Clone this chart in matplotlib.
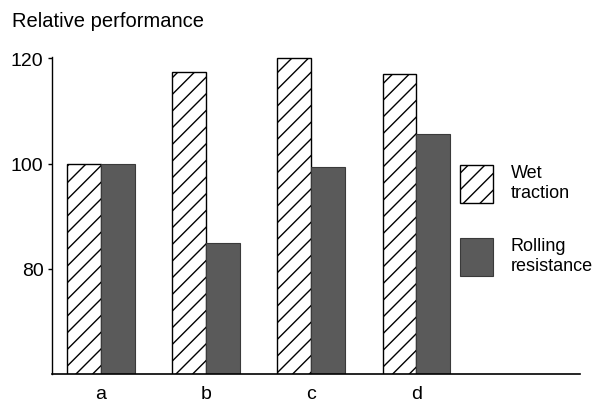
import matplotlib.pyplot as plt
import numpy as np

plt.rcParams['font.family'] = ['Liberation Sans', 'DejaVu Sans']
plt.rcParams['hatch.linewidth'] = 1.0

tyres = ['a', 'b', 'c', 'd']
wet_traction = [100, 117.5, 120, 117]
rolling_resistance = [100, 85, 99.3, 105.7]

x = np.arange(len(tyres))
w = 0.32

fig = plt.figure(figsize=(6.03, 4.10), dpi=100)
ax = fig.add_axes([0.086, 0.085, 0.876, 0.774])

ax.bar(x - w/2, wet_traction, w, color='white', edgecolor='black',
       hatch='//', linewidth=1.0, label='Wet\ntraction')
ax.bar(x + w/2, rolling_resistance, w, color='#5a5a5a', edgecolor='#3a3a3a',
       linewidth=0.8, label='Rolling\nresistance')

ax.set_ylim(60, 120.3)
ax.set_xlim(-0.467, 4.56)
ax.set_yticks([80, 100, 120])
ax.set_xticks(x)
ax.set_xticklabels(tyres, fontsize=14)
ax.tick_params(axis='y', labelsize=14, length=3, width=1, pad=3)
ax.tick_params(axis='x', length=0, pad=8)
for s in ['top', 'right']:
    ax.spines[s].set_visible(False)
ax.spines['left'].set_linewidth(1.0)
ax.spines['bottom'].set_linewidth(1.2)

fig.text(0.02, 0.925, 'Relative performance', fontsize=14.5, ha='left', va='bottom')

ax.legend(loc='upper left', bbox_to_anchor=(0.742, 0.712), frameon=False,
          handlelength=1.8, handleheight=2.88, fontsize=13, labelspacing=1.9,
          handletextpad=1.0)

plt.savefig('out.png', dpi=100)
